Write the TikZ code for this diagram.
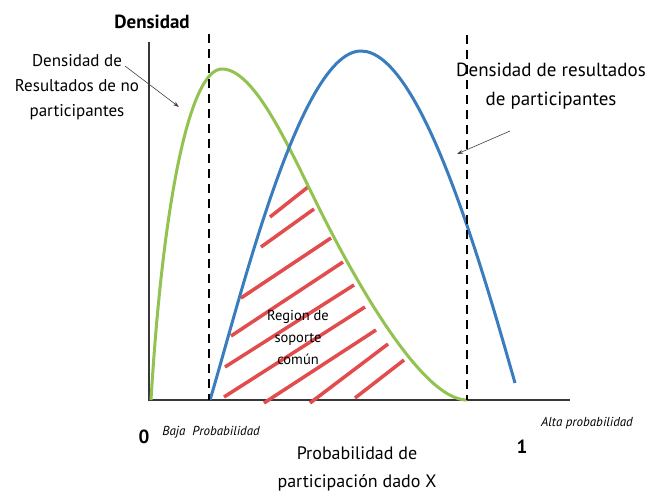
\documentclass[tikz,border=0pt]{standalone}
\usepackage{fontspec}
\setmainfont{PT Sans}
\usetikzlibrary{arrows.meta}
\definecolor{cgreen}{RGB}{146,195,80}
\definecolor{cblue}{RGB}{58,125,190}
\definecolor{chatch}{RGB}{226,76,76}
\definecolor{caxis}{RGB}{55,55,55}
\begin{document}
\begin{tikzpicture}[x=1pt,y=-1pt,
  axisline/.style={caxis,line width=1.3pt},
  dashline/.style={black,line width=1.8pt,dash pattern=on 9pt off 6pt},
  curvegreen/.style={cgreen,line width=3pt},
  curveblue/.style={cblue,line width=3pt},
  hatchline/.style={chatch,line width=3.5pt},
  pointer/.style={draw=black!75,line width=0.6pt,-{Stealth[length=6pt,width=4pt]}},
  lbl/.style={font=\fontsize{17}{25}\selectfont,align=center,inner sep=0pt},
  lblr/.style={font=\fontsize{19}{29}\selectfont,align=center,inner sep=0pt},
  title/.style={font=\fontsize{19}{22}\selectfont\bfseries,inner sep=0pt},
  small/.style={font=\fontsize{13}{14}\selectfont\itshape,inner sep=0pt},
  region/.style={font=\fontsize{14.5}{22}\selectfont,align=center,inner sep=0pt},
  xlabel/.style={font=\fontsize{18}{28}\selectfont,align=center,inner sep=0pt}
]
\useasboundingbox (0,0) rectangle (660,493);
\fill[white] (0,0) rectangle (660,493);

% axes
\coordinate (origin) at (149,400);
\coordinate (ytop) at (149,42);
\coordinate (xend) at (570,400);
\draw[axisline] (ytop) -- (origin) -- (xend);

% hatch lines
\draw[hatchline] (270,217) -- (308,187);
\draw[hatchline] (261,247) -- (314,209);
\draw[hatchline] (241,298) -- (331,238);
\draw[hatchline] (231,336) -- (343,262);
\draw[hatchline] (225,367) -- (354,285);
\draw[hatchline] (224,397) -- (365,307);
\draw[hatchline] (264,403) -- (376,330);
\draw[hatchline] (310,403) -- (388,344);
\draw[hatchline] (355,398) -- (404,360);

% curves
\draw[curvegreen] (151,400) .. controls (163,200) and (190,69) .. (222,69)
  .. controls (255,69) and (290,150) .. (320,210)
  .. controls (350,270) and (420,400) .. (467,400);
\draw[curveblue] (210,400) .. controls (240,300) and (300,51) .. (361,51)
  .. controls (420,51) and (480,260) .. (515,383);

% dashed lines
\coordinate (dl1) at (209,34);
\coordinate (dl2) at (209,400);
\coordinate (dr1) at (467,35);
\coordinate (dr2) at (467,400);
\draw[dashline] (dl1) -- (dl2);
\draw[dashline] (dr1) -- (dr2);

% labels
\node[title] (dens) at (152,22) {Densidad};
\node[lbl] (nopart) at (77,87) {Densidad de\\Resultados de no\\participantes};
\node[lblr] (part) at (551,86) {Densidad de resultados\\de participantes};
\node[region] (reg) at (298,337) {Region de\\soporte\\común};

\coordinate (a1s) at (125,66);
\coordinate (a1e) at (179,107);
\draw[pointer] (a1s) -- (a1e);
\coordinate (a2s) at (510,131);
\coordinate (a2e) at (457,154);
\draw[pointer] (a2s) -- (a2e);

\node[title] (zero) at (144,437) {0};
\node[small] (baja) at (211,432) {Baja\ \ Probabilidad};
\node[small] (alta) at (587,423) {Alta probabilidad};
\node[title] (one) at (522,447) {1};
\node[xlabel] (xlab) at (357,469) {Probabilidad de\\participación dado X};
\end{tikzpicture}
\end{document}
